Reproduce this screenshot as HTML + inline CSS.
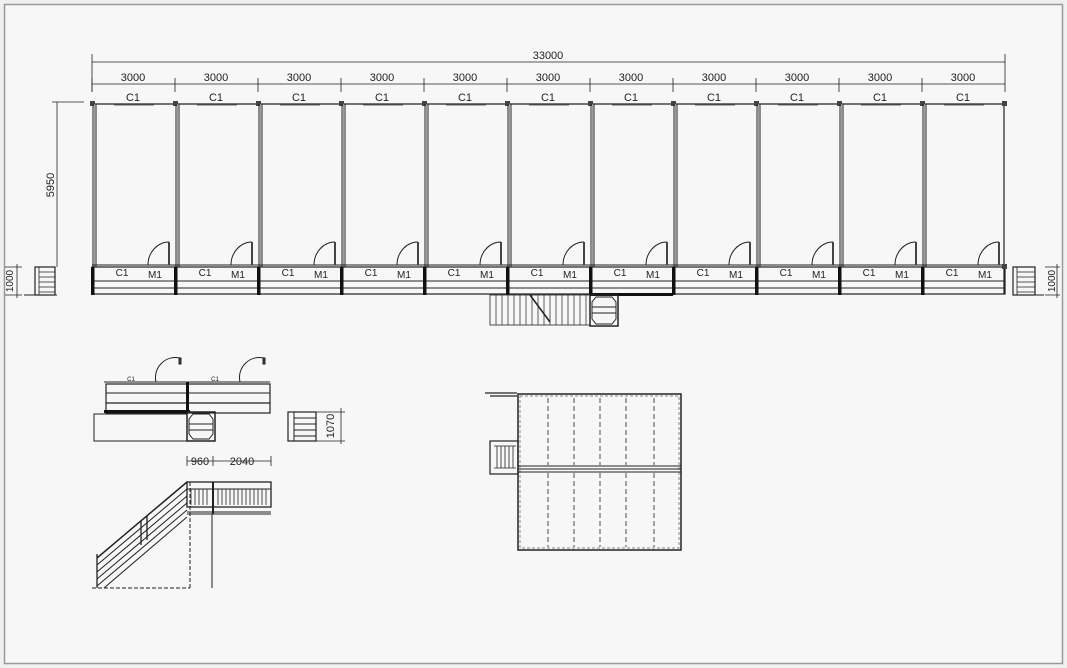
<!DOCTYPE html>
<html><head><meta charset="utf-8"><style>
html,body{margin:0;padding:0;background:#f0f0f0;}
svg{display:block;font-family:"Liberation Sans",sans-serif;}
</style></head><body>
<svg width="1067" height="668" viewBox="0 0 1067 668" xmlns="http://www.w3.org/2000/svg">
<rect x="0" y="0" width="1067" height="668" fill="#f0f0f0"/>
<rect x="4.5" y="4.5" width="1058" height="659" fill="#f7f7f7" stroke="#999" stroke-width="1.5"/>
<defs>
<g id="mod" fill="none" stroke="#222">
  <line x1="0" y1="104" x2="83" y2="104" stroke-width="1.2"/>
  <line x1="22" y1="105" x2="62" y2="105" stroke="#666"/>
  <rect x="-2" y="101" width="5" height="5" fill="#444" stroke="none"/>
  <line x1="1" y1="104" x2="1" y2="267" stroke-width="1"/>
  <line x1="4" y1="104" x2="4" y2="267" stroke-width="1"/>
  <line x1="2.5" y1="104" x2="2.5" y2="267" stroke="#999" stroke-width="1"/>
  <line x1="0" y1="265" x2="83" y2="265" stroke-width="1"/>
  <path d="M56 265 A21 23 0 0 1 77 242" stroke-width="1"/>
  <rect x="76" y="242" width="2" height="23" fill="#444" stroke="none"/>
  <rect x="0" y="267" width="83" height="27" stroke-width="1.2"/>
  <line x1="0" y1="281" x2="83" y2="281" stroke-width="1"/>
  <line x1="0" y1="288" x2="83" y2="288" stroke-width="1"/>
  <rect x="-1" y="267" width="3.5" height="28" fill="#111" stroke="none"/>
  <line x1="0" y1="62" x2="0" y2="68" stroke-width="0"/>
  <line x1="0" y1="78" x2="0" y2="92" stroke-width="0.8"/>
</g>
</defs>
<!-- top dims -->
<g stroke="#222" stroke-width="0.8" fill="none">
<line x1="92" y1="62" x2="1005" y2="62"/>
<line x1="92" y1="54" x2="92" y2="92"/>
<line x1="1005" y1="54" x2="1005" y2="92"/>
<line x1="92" y1="84" x2="1005" y2="84"/>
<line x1="52" y1="102" x2="84" y2="102"/>
<line x1="57" y1="102" x2="57" y2="267"/>
</g>
<use href="#mod" x="92"/><use href="#mod" x="175"/><use href="#mod" x="258"/><use href="#mod" x="341"/><use href="#mod" x="424"/><use href="#mod" x="507"/><use href="#mod" x="590"/><use href="#mod" x="673"/><use href="#mod" x="756"/><use href="#mod" x="839"/><use href="#mod" x="922"/>
<g stroke="#222" fill="none">
<line x1="1004" y1="104" x2="1004" y2="294" stroke-width="1.2"/>
<rect x="1002" y="101" width="5" height="5" fill="#444" stroke="none"/>
<rect x="1002" y="264" width="5" height="5" fill="#444" stroke="none"/>
<rect x="590" y="293" width="83" height="3" fill="#111" stroke="none"/>
<!-- stair under -->
<rect x="490" y="295" width="100" height="30" stroke-width="0.8"/>
<path d="M496 295V325M502 295V325M508 295V325M514 295V325M520 295V325M526 295V325M532 295V325M538 295V325M544 295V325M550 295V325M556 295V325M562 295V325M568 295V325M574 295V325M580 295V325M586 295V325" stroke-width="0.7"/>
<line x1="530" y1="295" x2="550" y2="322" stroke-width="1.5"/>
<rect x="590" y="295" width="28" height="31" stroke-width="1.5"/>
<path d="M596 297H612L616 302V319L612 324H596L592 319V302Z" stroke-width="1"/>
<line x1="592" y1="307" x2="616" y2="307"/><line x1="592" y1="313" x2="616" y2="313"/>
<!-- side stairs -->
<rect x="35" y="267" width="20" height="28" stroke-width="1.2"/>
<path d="M39 267V295M39 272H55M39 277H55M39 282H55M39 287H55M39 292H55" stroke-width="0.8"/>
<line x1="24" y1="295" x2="57" y2="295"/>
<path d="M5 267H22M5 295H22M17 264V298" stroke-width="0.8"/>
<rect x="1013" y="267" width="22" height="28" stroke-width="1.2"/>
<path d="M1017 267V295M1017 272H1035M1017 277H1035M1017 282H1035M1017 287H1035M1017 292H1035" stroke-width="0.8"/>
<line x1="1035" y1="295" x2="1044" y2="295"/>
<path d="M1045 267H1060M1045 295H1060M1057 264V298" stroke-width="0.8"/>
</g>
<g font-size="11" fill="#222" text-anchor="middle">
<text x="548" y="59">33000</text>
<text x="133" y="81">3000</text><text x="216" y="81">3000</text><text x="299" y="81">3000</text><text x="382" y="81">3000</text><text x="465" y="81">3000</text><text x="548" y="81">3000</text><text x="631" y="81">3000</text><text x="714" y="81">3000</text><text x="797" y="81">3000</text><text x="880" y="81">3000</text><text x="963" y="81">3000</text>
<text x="133" y="101">C1</text><text x="216" y="101">C1</text><text x="299" y="101">C1</text><text x="382" y="101">C1</text><text x="465" y="101">C1</text><text x="548" y="101">C1</text><text x="631" y="101">C1</text><text x="714" y="101">C1</text><text x="797" y="101">C1</text><text x="880" y="101">C1</text><text x="963" y="101">C1</text>
</g>
<g font-size="10" fill="#222" text-anchor="middle">
<text x="122" y="276">C1</text><text x="155" y="278">M1</text>
<text x="205" y="276">C1</text><text x="238" y="278">M1</text>
<text x="288" y="276">C1</text><text x="321" y="278">M1</text>
<text x="371" y="276">C1</text><text x="404" y="278">M1</text>
<text x="454" y="276">C1</text><text x="487" y="278">M1</text>
<text x="537" y="276">C1</text><text x="570" y="278">M1</text>
<text x="620" y="276">C1</text><text x="653" y="278">M1</text>
<text x="703" y="276">C1</text><text x="736" y="278">M1</text>
<text x="786" y="276">C1</text><text x="819" y="278">M1</text>
<text x="869" y="276">C1</text><text x="902" y="278">M1</text>
<text x="952" y="276">C1</text><text x="985" y="278">M1</text>
<text transform="translate(54,185) rotate(-90)" font-size="11">5950</text>
<text transform="translate(13,281) rotate(-90)">1000</text>
<text transform="translate(1055,281) rotate(-90)">1000</text>
<text transform="translate(334,426) rotate(-90)" font-size="11">1070</text>
<text x="200" y="465" font-size="11">960</text>
<text x="242" y="465" font-size="11">2040</text>
<text x="131" y="381" font-size="6">C1</text><text x="215" y="381" font-size="6">C1</text>
</g>
<!-- bottom left plan -->
<g stroke="#222" fill="none">
<line x1="104" y1="382" x2="270" y2="382" stroke-width="1"/>
<path d="M156 382A20 20 0 0 1 180 358" /><rect x="179" y="358" width="2" height="6" fill="#444"/>
<path d="M240 382A20 20 0 0 1 264 358" /><rect x="263" y="358" width="2" height="6" fill="#444"/>
<rect x="106" y="384" width="164" height="29" stroke-width="1.2"/>
<line x1="106" y1="393" x2="270" y2="393"/><line x1="106" y1="403" x2="270" y2="403" stroke-width="1.3"/>
<rect x="186" y="382" width="3" height="31" fill="#111" stroke="none"/>
<rect x="104" y="410" width="86" height="3" fill="#111" stroke="none"/>
<rect x="94" y="414" width="93" height="27" stroke-width="1"/>
<rect x="187" y="412" width="28" height="29" stroke-width="1.5"/>
<path d="M193 414H209L213 419V434L209 439H193L189 434V419Z"/>
<line x1="189" y1="424" x2="213" y2="424"/><line x1="189" y1="430" x2="213" y2="430"/>
<rect x="288" y="412" width="28" height="29" stroke-width="1.2"/>
<path d="M294 412V441M294 418H316M294 424H316M294 430H316M294 436H316"/>
<path d="M316 412H345M316 441H345M341 408V444" stroke-width="0.8"/>
<!-- elevation -->
<path d="M187 461H271M187 456V466M213 456V466M271 456V466" stroke-width="0.8"/>
<rect x="187" y="482" width="84" height="25" stroke-width="1.3"/>
<line x1="187" y1="489" x2="271" y2="489"/>
<path d="M191 489V505M195 489V505M199 489V505M203 489V505M207 489V505M218 489V505M222 489V505M226 489V505M230 489V505M234 489V505M238 489V505M242 489V505M246 489V505M250 489V505M254 489V505M258 489V505M262 489V505M266 489V505" stroke-width="0.8"/>
<line x1="213" y1="482" x2="213" y2="514" stroke-width="2"/>
<line x1="187" y1="512" x2="271" y2="512"/><line x1="187" y1="514" x2="271" y2="514"/>
<line x1="187" y1="482" x2="97" y2="558" stroke-width="1.5"/>
<line x1="187" y1="489" x2="97" y2="565"/><line x1="187" y1="496" x2="97" y2="572"/><line x1="187" y1="503" x2="97" y2="579"/><line x1="187" y1="510" x2="97" y2="586"/>
<line x1="187" y1="517" x2="104" y2="588"/>
<line x1="97" y1="554" x2="97" y2="588" stroke-width="1.3"/>
<path d="M141 521V545M147 516V540" stroke-width="1.3"/>
<line x1="190" y1="482" x2="190" y2="588" stroke-dasharray="4 2"/>
<line x1="212" y1="514" x2="212" y2="588"/>
<line x1="92" y1="588" x2="190" y2="588" stroke-dasharray="4 2"/>
<!-- right plan -->
<rect x="518" y="394" width="163" height="156" stroke-width="1.5"/>
<rect x="520" y="396" width="159" height="152" stroke="#888" stroke-dasharray="3 2"/>
<path d="M518 466H681M518 469H681M518 472H681" stroke-width="1"/>
<path d="M548 398V465M574 398V465M600 398V465M626 398V465M654 398V465M548 473V547M574 473V547M600 473V547M626 473V547M654 473V547" stroke-dasharray="5 3" stroke-width="0.8"/>
<path d="M485 393H517M490 396H517" stroke-width="1.3"/>
<rect x="490" y="441" width="28" height="33" stroke-width="1.2"/>
<path d="M494 446H516M497 446V468M501 446V468M505 446V468M509 446V468M513 446V468M494 468H516" stroke-width="0.8"/>
</g>
</svg>
</body></html>
